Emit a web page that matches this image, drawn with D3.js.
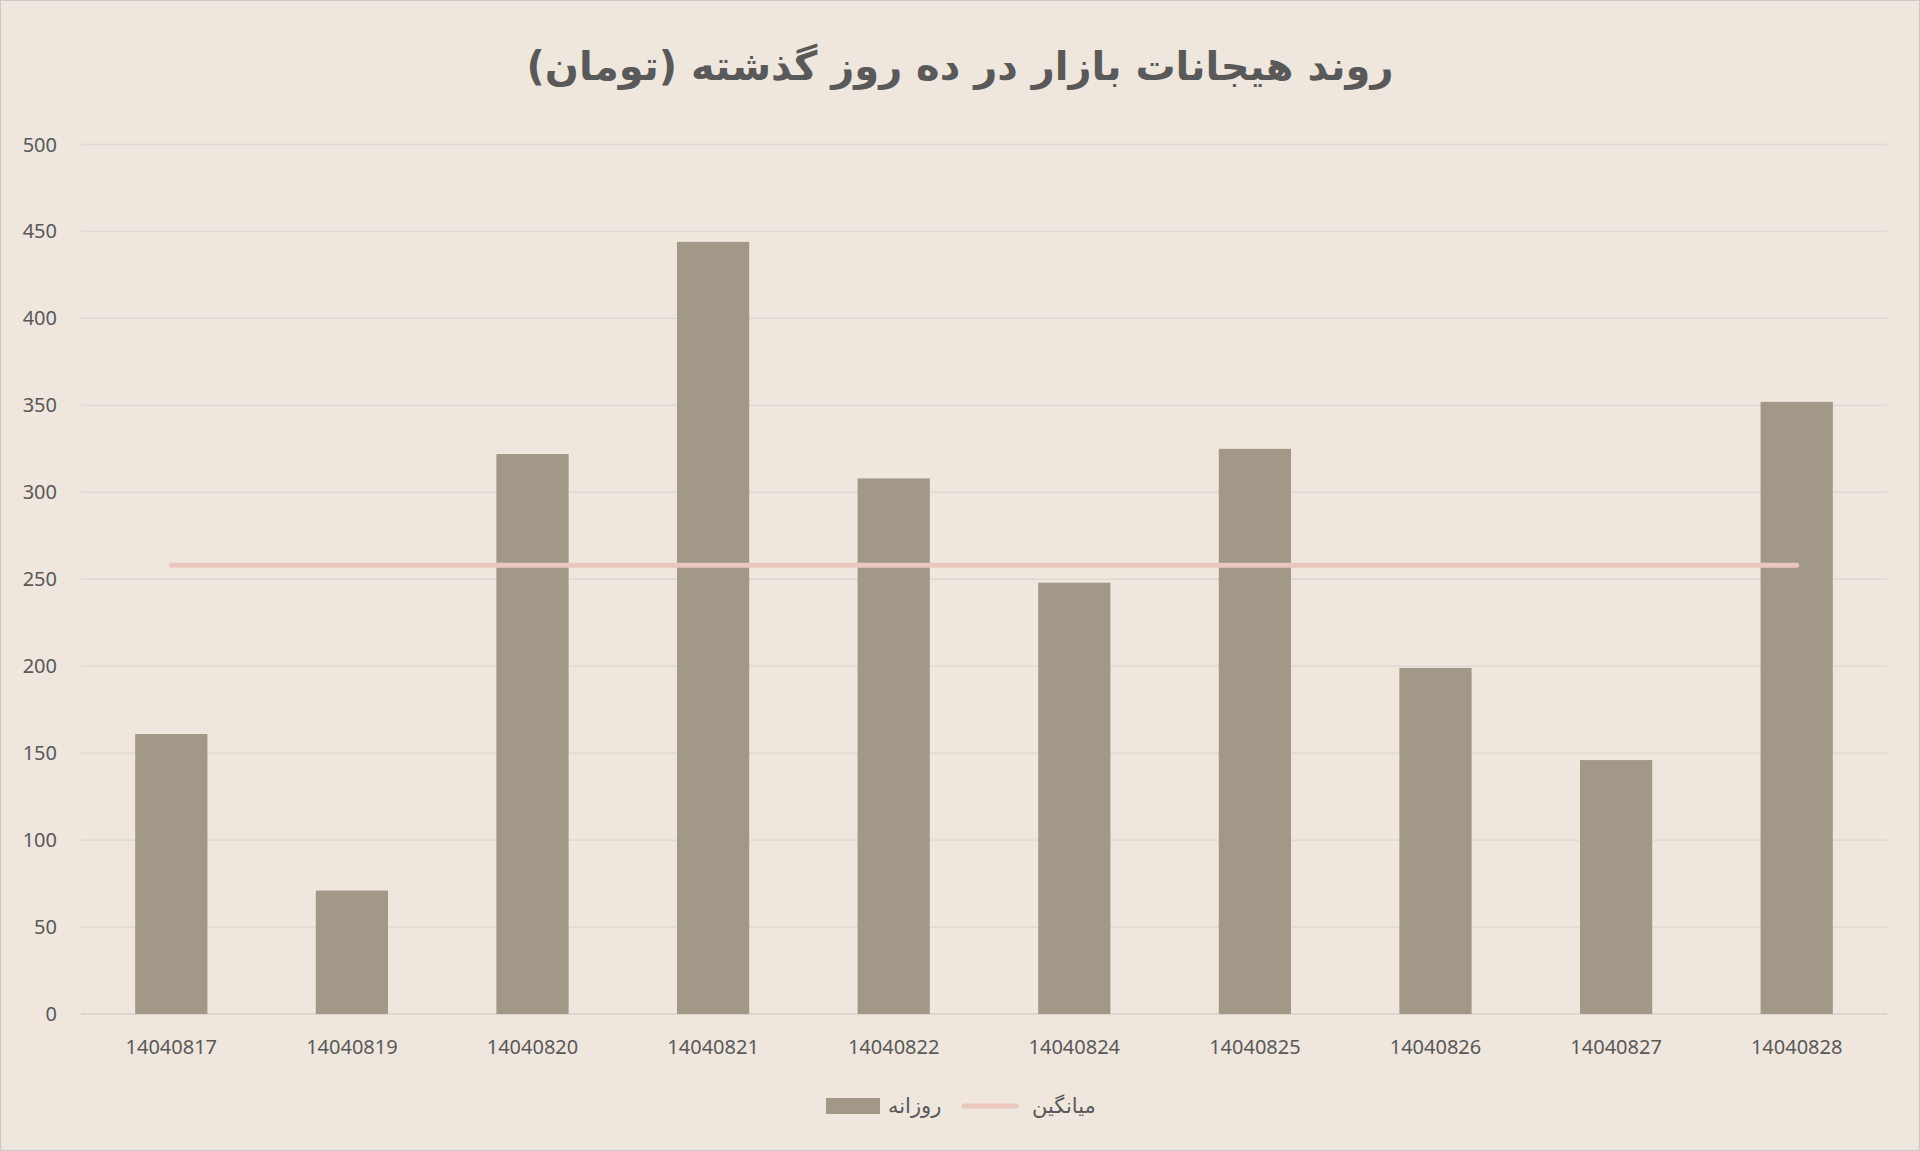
<!DOCTYPE html>
<html><head><meta charset="utf-8">
<script src="https://cdn.jsdelivr.net/npm/d3@7"></script>
<style>body{margin:0;background:#efe6dd}svg{display:block}</style>
</head><body>
<svg id="c" width="1920" height="1151"></svg>
<script>
const categories=["14040817","14040819","14040820","14040821","14040822","14040824","14040825","14040826","14040827","14040828"];
const daily=[161,71,322,444,308,248,325,199,146,352];
const average=[258,258,258,258,258,258,258,258,258,258];
const yTicks=[0,50,100,150,200,250,300,350,400,450,500];
const title="روند هیجانات بازار در ده روز گذشته (تومان)";
const legendDaily="روزانه", legendAvg="میانگین";

const svg=d3.select("#c");
svg.append("rect").attr("x",0.5).attr("y",0.5).attr("width",1919).attr("height",1150).attr("fill","#efe6dd").attr("stroke","#c9c9c9");
const L=81,R=1887,T=144.5,B=1014;
const x=d3.scaleBand().domain(categories).range([L,R]).paddingInner(0.6).paddingOuter(0.3);
const y=d3.scaleLinear().domain([0,500]).range([B,T]);
const font="'Noto Sans','DejaVu Sans',sans-serif";
svg.append("g").selectAll("line").data(yTicks).join("line")
 .attr("x1",L).attr("x2",R).attr("y1",d=>y(d)).attr("y2",d=>y(d))
 .attr("stroke",d=>d===0?"#d6d0ca":"#dcd8d3").attr("stroke-width",1.3);
svg.append("g").selectAll("text").data(yTicks).join("text")
 .attr("x",L-24).attr("y",d=>y(d)).attr("dy","0.35em").attr("text-anchor","end")
 .attr("font-family",font).attr("font-size",20).attr("fill","#595959").text(d=>d);
svg.append("g").selectAll("rect").data(daily).join("rect")
 .attr("x",(d,i)=>x(categories[i])).attr("width",x.bandwidth())
 .attr("y",d=>y(d)).attr("height",d=>B-y(d)).attr("fill","#a29888");
svg.append("g").selectAll("text").data(categories).join("text")
 .attr("x",d=>x(d)+x.bandwidth()/2).attr("y",B+40).attr("text-anchor","middle")
 .attr("font-family",font).attr("font-size",20).attr("fill","#595959").text(d=>d);
const line=d3.line().x((d,i)=>x(categories[i])+x.bandwidth()/2).y(d=>y(d));
svg.append("path").datum(average).attr("d",line).attr("fill","none")
 .attr("stroke","#ebc6bf").attr("stroke-width",5).attr("stroke-linecap","round");
svg.append("text").attr("x",960).attr("y",80).attr("text-anchor","middle").attr("direction","rtl")
 .attr("font-family","'DejaVu Sans','Noto Sans',sans-serif").attr("font-weight","bold").attr("font-size",40).attr("fill","#595959").text(title);
// legend
const ly=1106;
svg.append("rect").attr("x",826).attr("y",ly-8).attr("width",54).attr("height",16).attr("fill","#a29888");
svg.append("text").attr("x",888).attr("y",ly).attr("dy","0.35em").attr("text-anchor","start").attr("direction","ltr")
 .attr("font-family","'DejaVu Sans',sans-serif").attr("font-size",21).attr("fill","#595959").text(legendDaily);
svg.append("line").attr("x1",964).attr("x2",1016).attr("y1",ly).attr("y2",ly).attr("stroke","#ebc6bf").attr("stroke-width",5).attr("stroke-linecap","round");
svg.append("text").attr("x",1032).attr("y",ly).attr("dy","0.35em").attr("text-anchor","start").attr("direction","ltr")
 .attr("font-family","'DejaVu Sans',sans-serif").attr("font-size",21).attr("fill","#595959").text(legendAvg);
</script>
</body></html>
